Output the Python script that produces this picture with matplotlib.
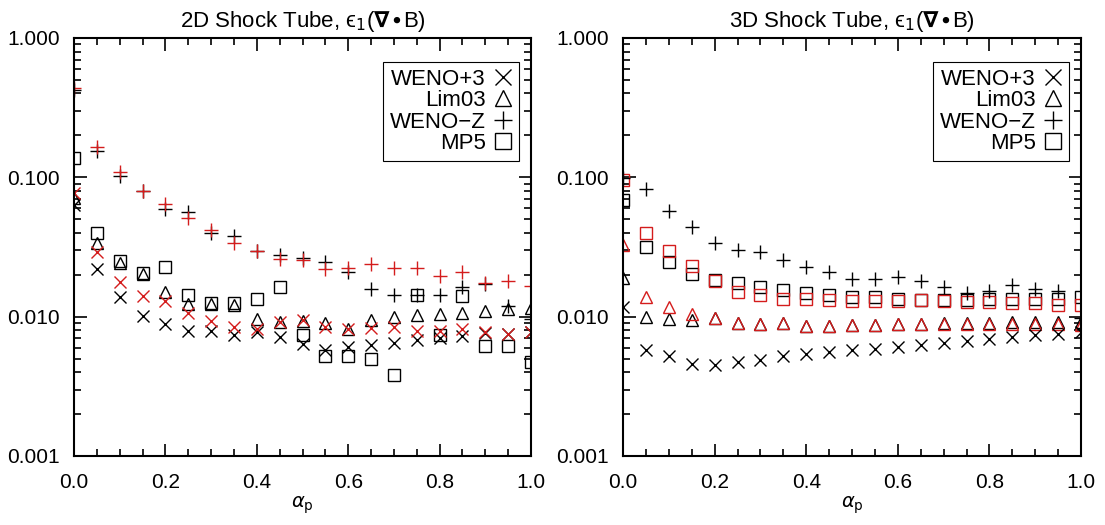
import matplotlib
matplotlib.use("Agg")
import matplotlib.pyplot as plt
from matplotlib.lines import Line2D
from matplotlib.ticker import LogLocator, FixedLocator, MultipleLocator, FuncFormatter, NullFormatter

plt.rcParams['font.family'] = ['Liberation Sans', 'DejaVu Sans']
plt.rcParams['mathtext.fontset'] = 'dejavusans'

alpha = [0.0, 0.05, 0.1, 0.15, 0.2, 0.25, 0.3, 0.35, 0.4, 0.45, 0.5,
         0.55, 0.6, 0.65, 0.7, 0.75, 0.8, 0.85, 0.9, 0.95, 1.0]

# ---- 2D shock tube ----
weno3_2d_black = [0.063, 0.022, 0.0139, 0.0101, 0.0089, 0.0079, 0.0079, 0.0074, 0.0078, 0.0072, 0.0064,
                  0.0058, 0.0061, 0.0063, 0.0065, 0.0068, 0.0070, 0.0073, 0.0076, 0.0075, 0.0078]
weno3_2d_red = [0.077, 0.029, 0.0178, 0.0141, 0.0130, 0.0107, 0.0093, 0.0085, 0.0081, 0.0092, 0.0095,
                0.0085, 0.0082, 0.0083, 0.0085, 0.0079, 0.0079, 0.0082, 0.0078, 0.0075, 0.0078]
lim03_2d_black = [0.071, 0.034, 0.0244, 0.0202, 0.0151, 0.0123, 0.0124, 0.0122, 0.0097, 0.0092, 0.0093,
                  0.0090, 0.0081, 0.0095, 0.0099, 0.0103, 0.0105, 0.0107, 0.0110, 0.0113, 0.0115]
wenoz_2d_black = [0.42, 0.155, 0.102, 0.080, 0.059, 0.0566, 0.040, 0.038, 0.0296, 0.0277, 0.0265,
                  0.0248, 0.0210, 0.0157, 0.0143, 0.0143, 0.0143, 0.0162, 0.0172, 0.0119, 0.0097]
wenoz_2d_red = [0.44, 0.166, 0.109, 0.080, 0.064, 0.051, 0.042, 0.0336, 0.0296, 0.0258, 0.0255,
                0.0220, 0.0222, 0.0239, 0.0225, 0.0222, 0.0197, 0.0210, 0.0175, 0.0181, 0.0166]
mp5_2d_black = [0.137, 0.040, 0.025, 0.0205, 0.0228, 0.0143, 0.0126, 0.0126, 0.0133, 0.0162, 0.0074,
                0.0052, 0.0052, 0.0050, 0.0038, 0.0143, 0.0074, 0.0141, 0.0062, 0.0062, 0.0047]

# ---- 3D shock tube ----
weno3_3d_black = [0.0118, 0.0058, 0.0052, 0.0046, 0.0045, 0.0047, 0.0049, 0.0052, 0.0054, 0.0056, 0.0058,
                  0.0059, 0.0061, 0.0063, 0.0065, 0.0067, 0.0069, 0.0072, 0.0074, 0.0075, 0.0077]
lim03_3d_black = [0.019, 0.0100, 0.0097, 0.0095, 0.0098, 0.0090, 0.0089, 0.0090, 0.0086, 0.0086, 0.0087,
                  0.0087, 0.0088, 0.0088, 0.0090, 0.0090, 0.0090, 0.0092, 0.0091, 0.0092, 0.0092]
lim03_3d_red = [0.0327, 0.0139, 0.0117, 0.0104, 0.0098, 0.0090, 0.0089, 0.0090, 0.0086, 0.0086, 0.0087,
                0.0087, 0.0088, 0.0088, 0.0088, 0.0088, 0.0088, 0.0088, 0.0088, 0.0089, 0.0087]
wenoz_3d_black = [0.099, 0.082, 0.057, 0.044, 0.0336, 0.030, 0.029, 0.0255, 0.0228, 0.0210, 0.0185,
                  0.0186, 0.0194, 0.0180, 0.0162, 0.0149, 0.0153, 0.0169, 0.0158, 0.0152, 0.0098]
mp5_3d_black = [0.069, 0.0318, 0.0245, 0.0202, 0.0183, 0.0173, 0.0162, 0.0155, 0.0147, 0.0143, 0.0139,
                0.0138, 0.0134, 0.0131, 0.0132, 0.0132, 0.0133, 0.0133, 0.0134, 0.0134, 0.0139]
mp5_3d_red = [0.095, 0.0396, 0.0297, 0.0232, 0.0181, 0.0151, 0.0143, 0.0135, 0.0134, 0.0132, 0.0130,
              0.0130, 0.0130, 0.0131, 0.0129, 0.0128, 0.0128, 0.0126, 0.0125, 0.0121, 0.0121]

titles = ['2D Shock Tube, \u03f5$_1$($\\mathbf{\\nabla}$$\\bullet$B)',
          '3D Shock Tube, \u03f5$_1$($\\mathbf{\\nabla}$$\\bullet$B)']
method_names = ['WENO+3', 'Lim03', 'WENO\u2212Z', 'MP5']
method_markers = ['x', '^', '+', 's']
ytick_vals = [0.001, 0.01, 0.1, 1.0]
xtick_vals = [0.0, 0.2, 0.4, 0.6, 0.8, 1.0]

RED = '#d41c1c'
BLACK = 'black'

fig = plt.figure(figsize=(11.05, 5.25), dpi=100)
axL = fig.add_axes([74 / 1105, 69 / 525, 457 / 1105, 418 / 525])
axR = fig.add_axes([623 / 1105, 69 / 525, 458 / 1105, 418 / 525])

ms = {'x': 8, '^': 8, '+': 10, 's': 8}

def pts(ax, y, marker, color):
    ax.plot(alpha, y, linestyle='none', marker=marker, markersize=ms[marker],
            markerfacecolor='none', markeredgecolor=color, markeredgewidth=1.0)

# left
pts(axL, mp5_2d_black, 's', BLACK)
pts(axL, lim03_2d_black, '^', BLACK)
pts(axL, weno3_2d_black, 'x', BLACK)
pts(axL, weno3_2d_red, 'x', RED)
pts(axL, wenoz_2d_black, '+', BLACK)
pts(axL, wenoz_2d_red, '+', RED)

# right
pts(axR, mp5_3d_black, 's', BLACK)
pts(axR, mp5_3d_red, 's', RED)
pts(axR, lim03_3d_black, '^', BLACK)
pts(axR, lim03_3d_red, '^', RED)
pts(axR, weno3_3d_black, 'x', BLACK)
pts(axR, wenoz_3d_black, '+', BLACK)

for ax, title in zip([axL, axR], titles):
    ax.set_yscale('log')
    ax.set_xlim(0, 1)
    ax.set_ylim(0.001, 1.0)
    ax.set_title(title, fontsize=16, pad=8)
    ax.set_xlabel(r'$\alpha_{\rm p}$', fontsize=14, labelpad=2)
    ax.xaxis.set_major_locator(FixedLocator(xtick_vals))
    ax.xaxis.set_minor_locator(MultipleLocator(0.05))
    ax.xaxis.set_major_formatter(FuncFormatter(lambda v, p: f'{v:.1f}'))
    ax.yaxis.set_major_locator(FixedLocator(ytick_vals))
    ax.yaxis.set_minor_locator(LogLocator(base=10, subs=range(2, 10)))
    ax.yaxis.set_minor_formatter(NullFormatter())
    ax.yaxis.set_major_formatter(FuncFormatter(lambda v, p: f'{v:.3f}'))
    ax.tick_params(which='both', direction='in', top=True, right=True, labelsize=15, width=1.2)
    ax.tick_params(axis='x', which='major', length=9, pad=12)
    ax.tick_params(axis='y', which='major', length=9, pad=10)
    ax.tick_params(which='minor', length=5)
    for s in ax.spines.values():
        s.set_linewidth(1.5)
    handles = [Line2D([], [], linestyle='none', marker=m, markersize=ms[m] + 3,
                      markerfacecolor='none', markeredgecolor='black', markeredgewidth=1.0)
               for m in method_markers]
    leg = ax.legend(handles, method_names, loc='upper right', markerfirst=False,
                    bbox_to_anchor=(1 - 12 / 457, 1 - 24 / 418),
                    fontsize=16, frameon=True, fancybox=False, edgecolor='black',
                    framealpha=1, handlelength=0.8, handletextpad=0.4,
                    borderpad=0.3, labelspacing=0.02, borderaxespad=0.0)
    leg.get_frame().set_linewidth(0.8)

fig.savefig('out.png', dpi=100)
